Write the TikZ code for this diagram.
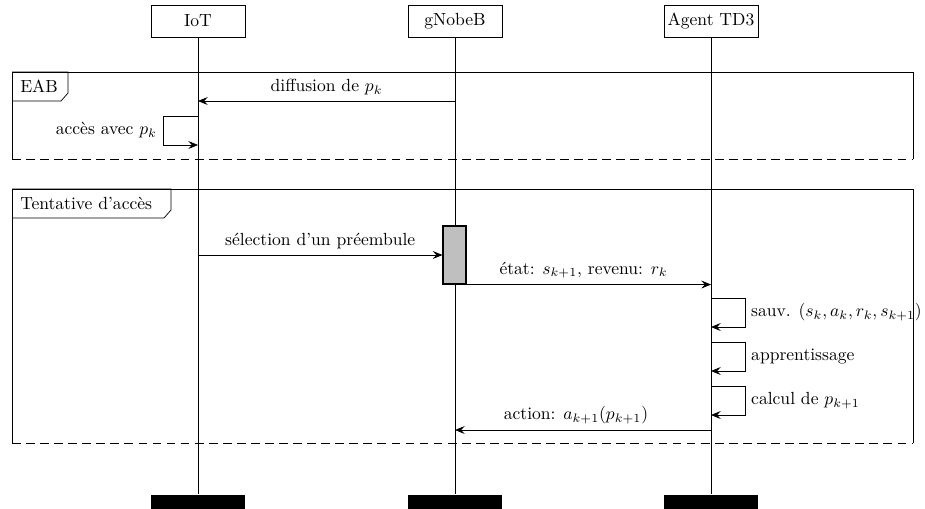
\documentclass[tikz,border=0pt]{standalone}
\usepackage{amsmath}
\usepackage{fontspec}
\usetikzlibrary{arrows.meta,calc,positioning}
\tikzstyle{actor}=[draw, minimum width=1.88cm, minimum height=0.64cm, inner sep=1pt]
\tikzstyle{lifeend}=[fill=black, minimum width=1.88cm, minimum height=0.28cm, inner sep=0pt]
\tikzstyle{framelabel}=[anchor=west, inner xsep=4.5pt]
\tikzstyle{frameend}=[dash pattern=on 5pt off 3pt]
\tikzstyle{msg}=[-{Stealth[length=5.5pt, width=4.5pt, inset=2pt]}]

\begin{document}
\begin{tikzpicture}[x=0.02cm, y=-0.02cm]
	\useasboundingbox (0,0) rectangle (925,508);
	% actors
	\node[actor] (iot) at (198,21) {IoT};
	\node[actor] (gnb) at (455,21) {gNobeB};
	\node[actor] (agent) at (711,21) {Agent TD3};
	% end of the lifelines
	\node[lifeend, below=9.14cm of iot] (iotend) {};
	\node[lifeend, below=9.14cm of gnb] (gnbend) {};
	\node[lifeend, below=9.14cm of agent] (agentend) {};
	% Lifelines
	\draw (iot) -- (iotend);
	\draw (gnb) -- (gnbend);
	\draw (agent) -- (agentend);
	
	% EAB block
	\draw (12,159) |- (913,72) -- (913,159);
	\draw[frameend] (12,159) -- (913,159);
	\draw (12,72) -- ++(56,0) -- ++(0,21) -- ++(-7,8) -- ++(-49,0);
	\node[framelabel] (eab) at (12,86.5) {EAB};
	
	\coordinate (g1) at (gnb |- 0,101);
	\coordinate (i1) at (iot |- 0,101);
	\draw[msg] (g1) -- (i1) node[midway,above]{diffusion de $p_k$};
	\coordinate (i2) at (iot |- 0,116);
	\coordinate (i3) at (iot |- 0,145);
	\draw[msg] (i2) -- ++(-35,0) -- node[left]{accès avec $p_k$} ++(0,29) -- (i3);
	
	% Tentative block
	\draw (12,443) |- (913,189) -- (913,443);
	\draw[frameend] (12,443) -- (913,443);
	\draw (12,189) -- ++(159,0) -- ++(0,21) -- ++(-7,8) -- ++(-152,0);
	\node[framelabel] (tent) at (12,203.5) {Tentative d'accès};
	
	\node[draw, semithick, fill=black!25, minimum width=0.46cm, minimum height=1.16cm, inner sep=0pt] (act) at (454.5,255) {};
	\coordinate (i4) at (iot |- act.west);
	\draw[msg] (i4) -- (act.west) node[midway,above]{sélection d'un préembule};
	\coordinate (a1) at (agent |- act.south);
	\draw[msg] (act.south east) -- (a1) node[midway,above,xshift=-3pt]{état: $s_{k+1}$, revenu: $r_k$};
	
	% Arrows
	\coordinate (a2) at (agent |- 0,298);
	\coordinate (a3) at (agent |- 0,327);
	\draw[msg] (a2) -- ++(34,0) -- node[right]{sauv. $(s_k,a_k,r_k,s_{k+1})$} ++(0,29) -- (a3);
	\coordinate (a4) at (agent |- 0,342);
	\coordinate (a5) at (agent |- 0,371);
	\draw[msg] (a4) -- ++(34,0) -- node[right]{apprentissage} ++(0,29) -- (a5);
	\coordinate (a6) at (agent |- 0,386);
	\coordinate (a7) at (agent |- 0,415);
	\draw[msg] (a6) -- ++(34,0) -- node[right]{calcul de $p_{k+1}$} ++(0,29) -- (a7);
	\coordinate (a8) at (agent |- 0,430);
	\coordinate (g8) at (gnb |- 0,430);
	\draw[msg] (a8) -- (g8) node[midway,above,xshift=-4pt]{action: $a_{k+1}(p_{k+1})$};
\end{tikzpicture}
\end{document}
